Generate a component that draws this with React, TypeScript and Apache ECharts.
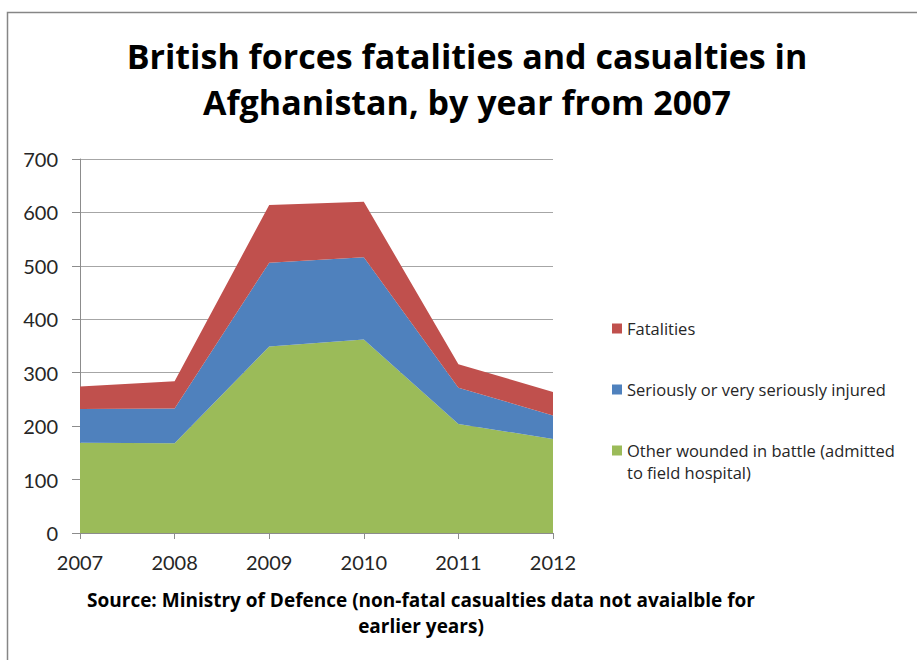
import React, { useEffect, useRef } from "react";
import * as echarts from "echarts";

const years = ["2007", "2008", "2009", "2010", "2011", "2012"];
const otherWounded = [169, 168, 349, 362, 204, 176];
const seriouslyInjured = [63, 65, 157, 154, 68, 44];
const fatalities = [42, 51, 108, 104, 44, 44];

const nameFatal = "Fatalities";
const nameSerious = "Seriously or very seriously injured";
const nameOther = "Other wounded in battle (admitted to field hospital)";
const otherLine1 = "Other wounded in battle (admitted";
const otherLine2 = "to field hospital)";

const titleLines = "British forces fatalities and casualties in\nAfghanistan, by year from 2007";
const sourceLines = "Source: Ministry of Defence (non-fatal casualties data not avaialble for\nearlier years)";

const FONT = "'Open Sans', Lato, sans-serif";
const AXFONT = "Lato, 'Open Sans', sans-serif";

export default function App() {
  const ref = useRef<HTMLDivElement>(null);
  useEffect(() => {
    if (!ref.current) return;
    const chart = echarts.init(ref.current, null, { renderer: "svg" });
    const mkSeries = (name: string, data: number[], color: string) => ({
      name,
      type: "line",
      stack: "total",
      data,
      showSymbol: false,
      symbol: "none",
      lineStyle: { width: 0 },
      areaStyle: { color, opacity: 1 },
      itemStyle: { color },
      emphasis: { disabled: true },
    });
    chart.setOption({
      animation: false,
      textStyle: { fontFamily: FONT },
      grid: { left: 80, right: 364, top: 159, bottom: 127, containLabel: false },
      xAxis: {
        type: "category",
        data: years,
        boundaryGap: false,
        axisLine: { show: true, lineStyle: { color: "#8c8c8c", width: 1 } },
        axisTick: { show: true, length: 6, lineStyle: { color: "#8c8c8c" } },
        axisLabel: { color: "#262626", fontSize: 20, fontFamily: AXFONT, margin: 19 },
        splitLine: { show: false },
      },
      yAxis: {
        type: "value",
        min: 0,
        max: 700,
        interval: 100,
        axisLine: { show: true, lineStyle: { color: "#8c8c8c", width: 1 } },
        axisTick: { show: true, length: 8, lineStyle: { color: "#8c8c8c" } },
        axisLabel: { color: "#262626", fontSize: 20, fontFamily: AXFONT, margin: 22 },
        splitLine: { show: true, lineStyle: { color: "#a6a6a6", width: 1 } },
      },
      legend: {
        orient: "vertical",
        left: 612,
        top: 317,
        padding: 0,
        itemWidth: 10,
        itemHeight: 10,
        itemGap: 38,
        icon: "rect",
        textStyle: { fontSize: 16.5, color: "#262626", fontFamily: FONT, lineHeight: 23 },
        formatter: (n: string) => (n === nameOther ? otherLine1 : n),
        data: [{ name: nameFatal }, { name: nameSerious }, { name: nameOther }],
      },
      graphic: [
        {
          type: "polyline",
          shape: { points: [[7.5, 700], [7.5, 12.5], [930, 12.5]] },
          style: { stroke: "#868686", lineWidth: 1.5, fill: null },
          silent: true,
        },
        {
          type: "text",
          x: 467,
          y: 33,
          style: {
            text: titleLines,
            fontSize: 34,
            fontWeight: "bold",
            fontFamily: FONT,
            fill: "#000",
            align: "center",
            lineHeight: 46,
          },
        },
        {
          type: "text",
          x: 627,
          y: 461,
          style: {
            text: otherLine2,
            fontSize: 16.5,
            fontFamily: FONT,
            fill: "#262626",
            align: "left",
            lineHeight: 23,
          },
        },
        {
          type: "text",
          x: 421,
          y: 587,
          style: {
            text: sourceLines,
            fontSize: 19,
            fontWeight: "bold",
            fontFamily: FONT,
            fill: "#000",
            align: "center",
            lineHeight: 26,
          },
        },
      ],
      series: [
        mkSeries(nameOther, otherWounded, "#9BBB59"),
        mkSeries(nameSerious, seriouslyInjured, "#4F81BD"),
        mkSeries(nameFatal, fatalities, "#C0504D"),
      ],
    });
    return () => chart.dispose();
  }, []);
  return (
    <div
      ref={ref}
      style={{ position: "fixed", left: 0, top: 0, width: 917, height: 660, background: "#fff" }}
    />
  );
}
